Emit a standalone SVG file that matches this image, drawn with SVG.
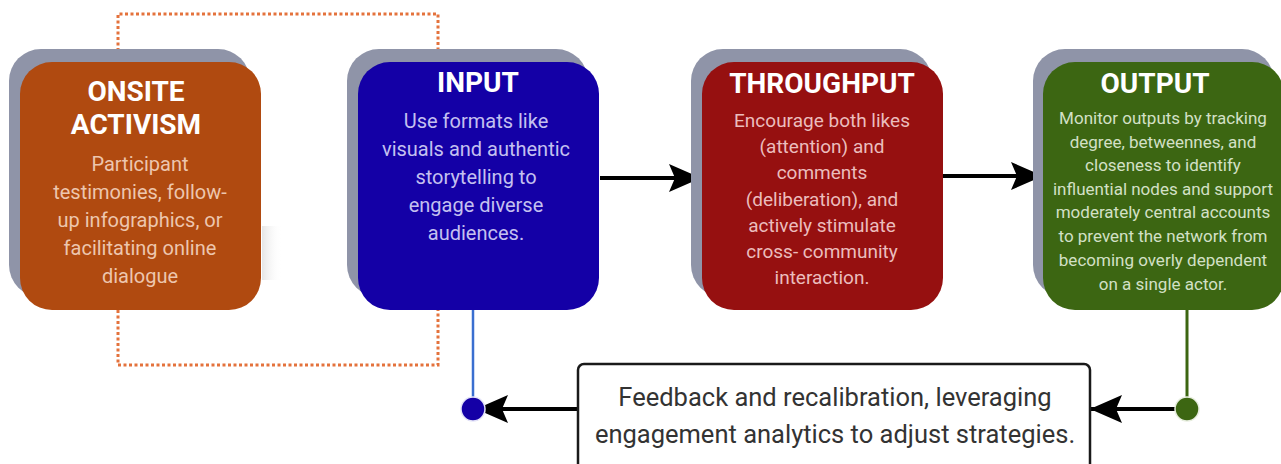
<svg xmlns="http://www.w3.org/2000/svg" width="1281" height="464" viewBox="0 0 1281 464">
<style>
.shadow{fill:#8F94A8}
.title{font-family:Roboto,"Liberation Sans",sans-serif;font-weight:bold;font-size:28px;fill:#ffffff;text-anchor:middle}
.body{font-family:Roboto,"Liberation Sans",sans-serif;font-size:20px;text-anchor:middle}
.conn{stroke:#000;stroke-width:4;fill:none}
.dot{stroke:#E4723C;stroke-width:3;fill:none;stroke-dasharray:3 2.5}
</style>
<defs>
<marker id="ah" markerWidth="32" markerHeight="28" refX="32" refY="14" orient="auto" markerUnits="userSpaceOnUse">
<path d="M0,0 L32,14 L0,28 L6,14 Z" fill="#000"/>
</marker>
<linearGradient id="fade" x1="0" y1="0" x2="1" y2="0">
<stop offset="0" stop-color="#e6e6e6"/>
<stop offset="1" stop-color="#ffffff" stop-opacity="0"/>
</linearGradient>
</defs>
<rect width="1281" height="464" fill="#ffffff"/>
<g id="loop-dotted">
<path class="dot" d="M118,62 V14 H438 V62"/>
<path class="dot" d="M118,310 V365 H438 V310"/>
</g>
<g id="connectors">
<line x1="473" y1="310" x2="473" y2="409" stroke="#3A6FD0" stroke-width="2.5"/>
<line x1="1187" y1="310" x2="1187" y2="409" stroke="#3C6612" stroke-width="3"/>
<line class="conn" x1="600" y1="178" x2="701" y2="178" marker-end="url(#ah)"/>
<line class="conn" x1="942" y1="176" x2="1043" y2="176" marker-end="url(#ah)"/>
<line class="conn" x1="1187" y1="409" x2="1090" y2="409" marker-end="url(#ah)"/>
<line class="conn" x1="577" y1="409" x2="476" y2="409" marker-end="url(#ah)"/>
</g>
<g id="onsite">
<rect x="262" y="226" width="20" height="54" fill="url(#fade)"/>
<rect class="shadow" x="9" y="49" width="241" height="248" rx="32"/>
<rect x="20" y="62" width="241" height="248" rx="32" fill="#B04A10"/>
<text class="title" x="136" y="101">ONSITE</text>
<text class="title" x="136" y="134">ACTIVISM</text>
<g class="body" fill="#EDC6AE">
<text x="140" y="171">Participant</text>
<text x="140" y="199">testimonies, follow-</text>
<text x="140" y="227">up infographics, or</text>
<text x="140" y="255">facilitating online</text>
<text x="140" y="283">dialogue</text>
</g>
</g>
<g id="input">
<rect class="shadow" x="347" y="49" width="241" height="248" rx="32"/>
<rect x="358" y="62" width="241" height="248" rx="32" fill="#1400A6"/>
<text class="title" x="478" y="92">INPUT</text>
<g class="body" fill="#C4C0F0">
<text x="476" y="128">Use formats like</text>
<text x="476" y="156">visuals and authentic</text>
<text x="476" y="184">storytelling to</text>
<text x="476" y="212">engage diverse</text>
<text x="476" y="240">audiences.</text>
</g>
</g>
<g id="throughput">
<rect class="shadow" x="691" y="49" width="241" height="248" rx="32"/>
<rect x="702" y="62" width="241" height="248" rx="32" fill="#961010"/>
<text class="title" x="822" y="93">THROUGHPUT</text>
<g class="body" fill="#EBBDBD" style="font-size:19px">
<text x="822" y="127">Encourage both likes</text>
<text x="822" y="153">(attention) and</text>
<text x="822" y="179">comments</text>
<text x="822" y="206">(deliberation), and</text>
<text x="822" y="232">actively stimulate</text>
<text x="822" y="258">cross- community</text>
<text x="822" y="284">interaction.</text>
</g>
</g>
<g id="output">
<rect class="shadow" x="1033" y="49" width="241" height="248" rx="32"/>
<rect x="1043" y="62" width="241" height="248" rx="32" fill="#3C6612"/>
<text class="title" x="1155" y="93">OUTPUT</text>
<g class="body" fill="#D3E0C6" style="font-size:17px">
<text x="1163" y="124">Monitor outputs by tracking</text>
<text x="1163" y="148">degree, betweennes, and</text>
<text x="1163" y="171">closeness to identify</text>
<text x="1163" y="195">influential nodes and support</text>
<text x="1163" y="218">moderately central accounts</text>
<text x="1163" y="242">to prevent the network from</text>
<text x="1163" y="266">becoming overly dependent</text>
<text x="1163" y="290">on a single actor.</text>
</g>
</g>
<g id="feedback">
<rect x="578" y="364" width="512" height="106" rx="6" fill="#ffffff" stroke="#1a1a1a" stroke-width="2.5"/>
<g class="body" fill="#333333" style="font-size:25.5px">
<text x="835" y="406">Feedback and recalibration, leveraging</text>
<text x="835" y="443">engagement analytics to adjust strategies.</text>
</g>
</g>
<g id="input-port">
<circle cx="473" cy="409" r="12" fill="#1400A6" stroke="#E4E4F8" stroke-width="1.5"/>
</g>
<g id="output-port">
<circle cx="1187" cy="409" r="12" fill="#3C6612" stroke="#E8EEE0" stroke-width="1.5"/>
</g>
</svg>
